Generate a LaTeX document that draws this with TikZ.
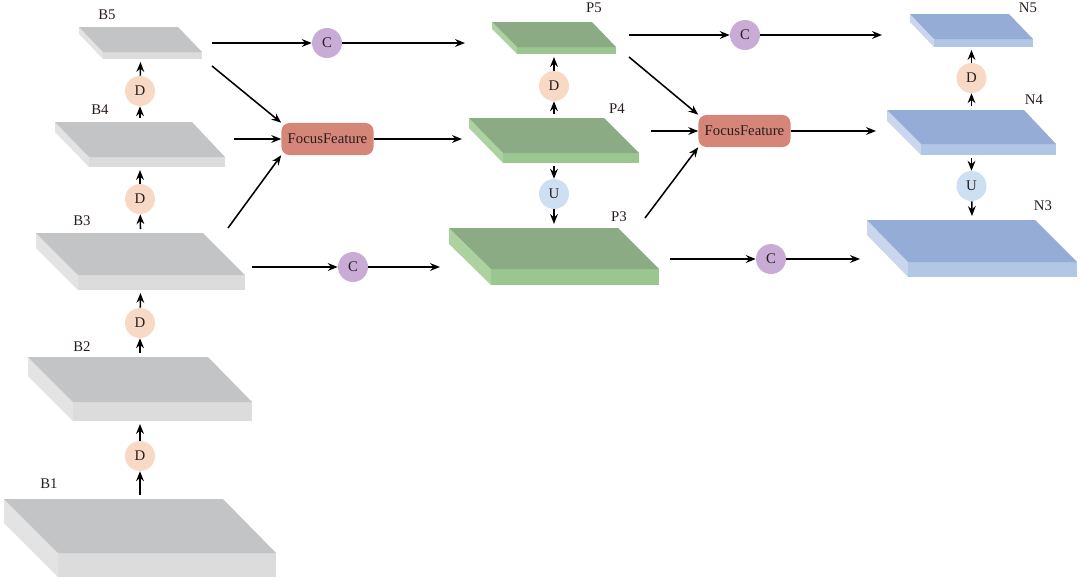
\documentclass[tikz,border=0pt]{standalone}
\usepackage{fontspec}
\setmainfont{Liberation Serif}
\usetikzlibrary{arrows.meta}
\definecolor{graytop}{RGB}{195,196,198}
\definecolor{grayfront}{RGB}{220,220,221}
\definecolor{grayside}{RGB}{227,227,228}
\definecolor{greentop}{RGB}{139,171,133}
\definecolor{greenfront}{RGB}{155,198,143}
\definecolor{greenside}{RGB}{172,210,160}
\definecolor{bluetop}{RGB}{149,173,214}
\definecolor{bluefront}{RGB}{178,198,230}
\definecolor{blueside}{RGB}{202,214,237}
\definecolor{dfill}{RGB}{247,217,198}
\definecolor{cfill}{RGB}{201,172,214}
\definecolor{ufill}{RGB}{204,224,242}
\definecolor{fffill}{RGB}{213,134,121}
\definecolor{ink}{RGB}{40,30,30}
% slab: name, colour, back-left x, back-right x, back y, front-left x, front-right x, front y, thickness
\newcommand{\slab}[9]{%
  \fill[#2side] (#3,#5) -- (#3,#5+#9) -- (#6,#8+#9) -- (#6,#8) -- cycle;
  \fill[#2front] (#6,#8) rectangle (#7,#8+#9);
  \fill[#2top] (#3,#5) -- (#4,#5) -- (#7,#8) -- (#6,#8) -- cycle;
  \coordinate (#1-t) at ({(#3+#7)/2},#5-4);
  \coordinate (#1-b) at ({(#3+#7)/2},#8+#9+3);
}
\begin{document}
\begin{tikzpicture}[x=0.025cm,y=-0.025cm,
    font=\fontsize{10.5}{12}\selectfont,text=ink,
    arr/.style={-{Stealth[length=7pt,width=5.5pt]},line width=1.1pt},
    op/.style={circle,minimum size=0.75cm,inner sep=0pt},
    dop/.style={op,fill=dfill},
    cop/.style={op,fill=cfill},
    uop/.style={op,fill=ufill},
    focus/.style={rounded corners=0.2cm,fill=fffill,minimum width=2.3cm,minimum height=0.8cm,inner sep=0pt}]
  \useasboundingbox (0,0) rectangle (1080,579);
  % backbone
  \slab{B1}{gray}{4}{223}{499}{58}{276}{553}{24}
  \slab{B2}{gray}{28}{208}{357}{73}{252}{402}{19}
  \slab{B3}{gray}{36}{203}{233}{78}{245}{275}{15}
  \slab{B4}{gray}{55}{192}{122}{89}{225}{157}{10}
  \slab{B5}{gray}{79}{178}{27}{103}{202}{52}{7}
  % P levels
  \slab{P5}{green}{492}{592}{22}{517}{616}{47}{7}
  \slab{P4}{green}{469}{604}{118}{503}{639}{153}{10}
  \slab{P3}{green}{449}{618}{228}{491}{659}{269}{16}
  % N levels
  \slab{N5}{blue}{910}{1009}{14}{934}{1033}{39}{8}
  \slab{N4}{blue}{887}{1024}{110}{921}{1056}{144}{11}
  \slab{N3}{blue}{867}{1035}{220}{908}{1077}{262}{15}
  \draw
    (107,15) node (lB5){B5}
    (100,110) node (lB4){B4}
    (82,221) node (lB3){B3}
    (82,347) node (lB2){B2}
    (49,484) node (lB1){B1}
    (594,8) node (lP5){P5}
    (617,109) node (lP4){P4}
    (619,217) node (lP3){P3}
    (1028,8) node (lN5){N5}
    (1034,100) node (lN4){N4}
    (1043,206) node (lN3){N3};
  \node[dop] (dB1) at (140,456) {D};
  \node[dop] (dB2) at (140,323) {D};
  \node[dop] (dB3) at (140,199) {D};
  \node[dop] (dB4) at (140,91) {D};
  \node[dop] (dP) at (554,86) {D};
  \node[uop] (uP) at (554,194) {U};
  \node[dop] (dN) at (971.5,78) {D};
  \node[uop] (uN) at (971.5,186) {U};
  \node[cop] (c1) at (327,43) {C};
  \node[cop] (c2) at (353,267) {C};
  \node[cop] (c3) at (745,35) {C};
  \node[cop] (c4) at (771,259) {C};
  \node[focus] (FF1) at (327.5,139) {FocusFeature};
  \node[focus] (FF2) at (744.5,131) {FocusFeature};
  \coordinate (B5e) at (212,43);
  \coordinate (B5se) at (212,66);
  \coordinate (B4e) at (234,139);
  \coordinate (B3ne) at (228,228);
  \coordinate (B3e) at (252,267);
  \coordinate (P5w) at (465,43);
  \coordinate (P4w) at (462,139);
  \coordinate (P3w) at (440,267);
  \coordinate (P5e) at (629,35);
  \coordinate (P5se) at (629,57);
  \coordinate (P4e) at (651,131);
  \coordinate (P3ne) at (645,218);
  \coordinate (P3e) at (670,259);
  \coordinate (N5w) at (882,35);
  \coordinate (N4w) at (876,131);
  \coordinate (N3w) at (860,259);
  \begin{scope}[arr]
    \draw (B1-t) to (dB1);
    \draw (dB1) to (B2-b);
    \draw (B2-t) to (dB2);
    \draw (dB2) to (B3-b);
    \draw (B3-t) to (dB3);
    \draw (dB3) to (B4-b);
    \draw (B4-t) to (dB4);
    \draw (dB4) to (B5-b);
    \draw (P4-t) to (dP);
    \draw (dP) to (P5-b);
    \draw (P4-b) to (uP);
    \draw (uP) to (P3-t);
    \draw (N4-t) to (dN);
    \draw (dN) to (N5-b);
    \draw (N4-b) to (uN);
    \draw (uN) to (N3-t);
    \draw (B5e) to (c1);
    \draw (c1) to (P5w);
    \draw (B5se) to (FF1.north west);
    \draw (B4e) to (FF1);
    \draw (B3ne) to (FF1.south west);
    \draw (FF1) to (P4w);
    \draw (B3e) to (c2);
    \draw (c2) to (P3w);
    \draw (P5e) to (c3);
    \draw (c3) to (N5w);
    \draw (P5se) to (FF2.north west);
    \draw (P4e) to (FF2);
    \draw (P3ne) to (FF2.south west);
    \draw (FF2) to (N4w);
    \draw (P3e) to (c4);
    \draw (c4) to (N3w);
  \end{scope}
\end{tikzpicture}
\end{document}
